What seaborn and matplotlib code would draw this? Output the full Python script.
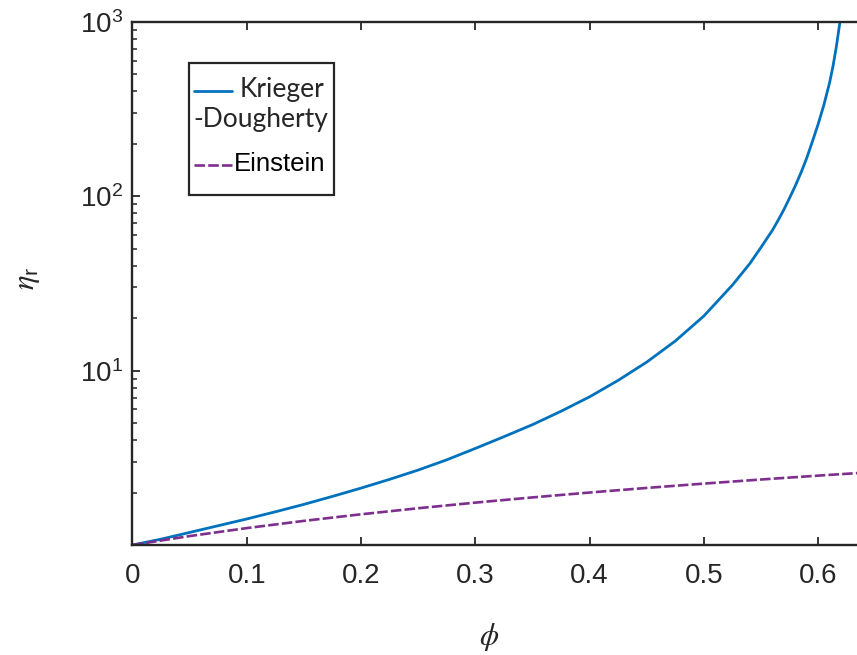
import numpy as np
import pandas as pd
import matplotlib
matplotlib.use("Agg")
import matplotlib.pyplot as plt
import seaborn as sns
from matplotlib.lines import Line2D
from matplotlib.patches import Rectangle
from matplotlib.ticker import FixedLocator, LogLocator, FuncFormatter, NullFormatter

# ---- data ----
kd_phi = [0.0, 0.025, 0.05, 0.075, 0.10, 0.125, 0.15, 0.175, 0.20, 0.225, 0.25,
          0.275, 0.30, 0.325, 0.35, 0.375, 0.40, 0.425, 0.45, 0.475, 0.50,
          0.525, 0.54, 0.55, 0.56, 0.565, 0.57, 0.575, 0.58, 0.585, 0.59,
          0.595, 0.60, 0.605, 0.61, 0.613, 0.616, 0.619, 0.621]
kd_eta = [1.0, 1.08, 1.18, 1.29, 1.41, 1.55, 1.71, 1.90, 2.12, 2.38, 2.69,
          3.08, 3.58, 4.18, 4.90, 5.85, 7.08, 8.80, 11.2, 14.8, 20.6,
          31.0, 41.0, 51.0, 64.0, 73.0, 84.0, 98.0, 115.0, 137.0, 166.0,
          207.0, 260.0, 335.0, 450.0, 560.0, 730.0, 1000.0, 1300.0]

ein_phi = [0.0, 0.05, 0.10, 0.15, 0.20, 0.25, 0.30, 0.35, 0.40, 0.45, 0.50,
           0.55, 0.60, 0.65]
ein_eta = [1.0, 1.125, 1.25, 1.375, 1.5, 1.625, 1.75, 1.875, 2.0, 2.125, 2.25,
           2.375, 2.5, 2.625]

x_ticks = [0, 0.1, 0.2, 0.3, 0.4, 0.5, 0.6]
x_tick_labels = ["0", "0.1", "0.2", "0.3", "0.4", "0.5", "0.6"]
y_ticks = [1, 10, 100, 1000]

series_names = ["Krieger\n-Dougherty", "Einstein"]

# ---- style ----
sns.set_theme(style="ticks")
plt.rcParams["font.family"] = ["Liberation Sans", "DejaVu Sans"]
plt.rcParams["mathtext.fontset"] = "stix"

DARK = "#262626"
BLUE = "#0072BD"
PURPLE = "#7E2F8E"
DASH = (0, (4, 1.2))

W, H = 857, 655
fig = plt.figure(figsize=(W / 100, H / 100), dpi=100)

x0_px, y_top_px, y_bot_px = 132.4, 22.0, 545.0
px_per_unit = 1143.0
xmax = 0.7
ax = fig.add_axes([x0_px / W, 1 - y_bot_px / H,
                   xmax * px_per_unit / W, (y_bot_px - y_top_px) / H])

df_kd = pd.DataFrame({"phi": kd_phi, "eta": kd_eta})
df_ein = pd.DataFrame({"phi": ein_phi, "eta": ein_eta})

sns.lineplot(data=df_kd, x="phi", y="eta", ax=ax, color=BLUE, lw=2.0,
             estimator=None, sort=False, solid_joinstyle="round")
sns.lineplot(data=df_ein, x="phi", y="eta", ax=ax, color=PURPLE, lw=1.9,
             estimator=None, sort=False, linestyle=DASH)

ax.set_yscale("log")
ax.set_xlim(0, xmax)
ax.set_ylim(1, 1000)

ax.xaxis.set_major_locator(FixedLocator(x_ticks))
ax.set_xticklabels(x_tick_labels)
ax.yaxis.set_major_locator(FixedLocator(y_ticks))


def yfmt(v, pos):
    if v <= 1.0001:
        return ""
    return r"$\mathregular{10^{%d}}$" % int(round(np.log10(v)))


ax.yaxis.set_major_formatter(FuncFormatter(yfmt))
ax.yaxis.set_minor_locator(LogLocator(base=10, subs=np.arange(2, 10)))
ax.yaxis.set_minor_formatter(NullFormatter())

ax.tick_params(axis="both", which="major", direction="in", length=6, width=1.3,
               colors=DARK, labelsize=20, top=True, right=True)
ax.tick_params(axis="both", which="minor", direction="in", length=3.5, width=1.1,
               colors=DARK, top=True, right=True)
ax.tick_params(axis="x", which="major", pad=13)
ax.tick_params(axis="y", which="major", pad=7)
for s in ax.spines.values():
    s.set_visible(True)
    s.set_color(DARK)
    s.set_linewidth(1.7)

ax.set_xlabel(r"$\phi$", fontsize=22, color=DARK)
ax.xaxis.set_label_coords((489 - x0_px) / (xmax * px_per_unit), -(637 - y_bot_px) / (y_bot_px - y_top_px))
ax.set_ylabel(r"$\eta_{\mathregular{r}}$", fontsize=22, color=DARK)
ax.yaxis.set_label_coords(-(132.4 - 27) / (xmax * px_per_unit), (y_bot_px - 278) / (y_bot_px - y_top_px))
ax.yaxis.label.set_verticalalignment("center")
ax.xaxis.label.set_verticalalignment("center")


def fx(px):
    return px / W


def fy(py):
    return 1 - py / H


# ---- legend (drawn manually to match the two-line layout) ----
fig.patches.append(Rectangle((fx(189), fy(195)), fx(334) - fx(189), fy(63) - fy(195),
                             transform=fig.transFigure, facecolor="white",
                             edgecolor=DARK, linewidth=1.6, zorder=5))
fig.lines.append(Line2D([fx(194), fx(232)], [fy(91), fy(91)], transform=fig.transFigure,
                        color=BLUE, lw=2.0, zorder=6))
fig.lines.append(Line2D([fx(194), fx(232)], [fy(165), fy(165)], transform=fig.transFigure,
                        color=PURPLE, lw=1.9, linestyle=DASH, zorder=6))
kd_lines = series_names[0].split("\n")
fig.text(fx(240), fy(90), kd_lines[0], ha="left", va="center", fontsize=19,
         family=["Lato", "DejaVu Sans"], color=DARK, zorder=7)
fig.text(fx(193), fy(120), kd_lines[1], ha="left", va="center", fontsize=19,
         family=["Lato", "DejaVu Sans"], color=DARK, zorder=7)
fig.text(fx(234), fy(164), series_names[1], ha="left", va="center", fontsize=18.5,
         family=["Liberation Sans", "DejaVu Sans"], color="black", zorder=7)

fig.savefig("out.png", dpi=100)
